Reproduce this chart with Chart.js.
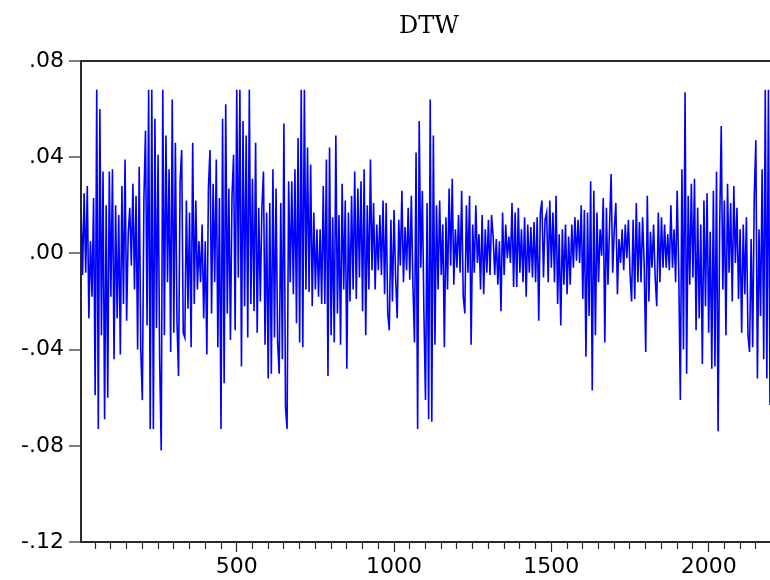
<!DOCTYPE html>
<html lang="en">
  <head>
    <meta charset="UTF-8">
    <title>DTW</title>
    <script src="https://cdn.jsdelivr.net/npm/chart.js"></script>
    <style>
      body { margin: 0; background: #fff; }
      canvas { display: block; }
    </style>
  </head>
  <body>
  <canvas id="chart" width="770" height="580"></canvas>
    <script>
    const dtwPart1 = [20,-9,25,-8,28,-27,5,-18,23,-59,68,-73,60,-34,34,-69,20,-60,34,-18,
      35,-44,20,-27,16,-42,28,-21,39,-28,8,19,-5,29,-15,24,-40,36,-40,-61,
      23,51,-30,68,-73,68,-73,56,-31,41,-44,-82,68,-34,49,-12,35,-41,64,-33,
      46,-28,-51,30,43,-33,-35,22,-23,17,-39,46,-21];
    const dtwPart2 = [22,-15,5,-12,12,-27,5,-42,27,43,-25,29,-12,39,-39,23,-73,56,-54,62,
      -25,27,-36,24,41,-32,68,-10,68,-47,55,-22,49,-35,68,-21,31,-24,46,-33,
      19,-20,19,34,-38,17,-52,21,-50,35,-35,27,-37,-50,21,-44,54,-64,-73,30,
      -12,30,-17,35,-29,48,-37,68,-39,68,-15,44,-16,37,-22];
    const dtwPart3 = [17,-15,10,-18,10,-21,28,-21,39,-51,44,-34,15,-37,49,-25,16,-38,29,-15,
      22,-48,17,-20,24,-15,34,-19,27,-10,30,-24,35,-34,20,-15,39,-7,21,-15,
      12,-7,16,-9,22,-17,21,-25,-32,14,-20,18,-10,-27,14,-5,26,-12,11,-7,
      19,-11,24,-13,-37,42,-73,55,-6,26,-25,-61,21,-69];
    const dtwPart4 = [64,-70,49,-38,20,-15,22,-9,12,-39,15,-15,27,-5,31,-13,10,-6,16,-8,
      26,-18,-25,20,-8,24,-38,12,-8,20,-4,8,-15,16,-17,10,-8,14,-9,16,
      7,-9,6,-13,5,-24,17,-9,12,-2,7,-4,21,-14,17,-14,19,-8,10,-12,
      15,-18,12,-8,11,-10,13,-12,15,-28,17,22,-10,14];
    const dtwPart5 = [17,-12,22,-6,17,-12,24,-21,8,-30,10,-13,12,-17,7,-13,12,-6,15,-3,
      14,-4,20,-19,18,-43,17,-26,30,-57,26,-34,17,-12,10,-1,23,-37,19,-13,
      11,33,-8,10,21,-17,6,-4,10,-7,12,-2,14,-8,-20,14,-19,21,-12,13,
      -12,15,-4,-41,24,-20,9,-6,12,-10,-22,17,-12,15,-6];
    const dtwPart6 = [12,-6,8,-7,20,-6,10,-12,26,-8,-61,35,-40,67,-50,24,-13,29,-10,31,
      -32,19,-27,12,-46,22,-22,25,-33,9,-48,26,-47,34,-74,11,53,-15,22,-34,
      29,-8,21,-20,28,-4,19,-19,10,-33,12,-17,15,-34,-41,6,-39,24,47,-52,
      10,-26,35,-44,68,-52,68,-63];

    const firstObs = 5;
    const obsStep = 5;
    const xTickLabels = [500, 1000, 1500, 2000];
    const yTickLabels = ['-.12', '-.08', '-.04', '.00', '.04', '.08'];
    const titleText = 'DTW';

    const dtw = [].concat(dtwPart1, dtwPart2, dtwPart3, dtwPart4, dtwPart5, dtwPart6);
    const points = dtw.map((v, i) => ({ x: firstObs + i * obsStep, y: v }));

    const axisColor = '#2a2a2a';

    const titlePlugin = {
      id: 'dtwTitle',
      afterDraw(chart) {
        const c = chart.ctx;
        c.save();
        c.font = '24px "DejaVu Serif"';
        c.fillStyle = '#000';
        c.textAlign = 'center';
        c.textBaseline = 'middle';
        c.fillText(titleText, 429, 27);
        c.restore();
      }
    };

    const ctx = document.getElementById('chart').getContext('2d');
    new Chart(ctx, {
      type: 'line',
      data: {
        datasets: [{
          label: titleText,
          data: points,
          borderColor: '#0000ff',
          borderWidth: 1.6,
          pointRadius: 0,
          tension: 0,
          fill: false
        }]
      },
      options: {
        responsive: false,
        animation: false,
        layout: { padding: { top: 61, left: 0, right: 0, bottom: 0 } },
        plugins: {
          legend: { display: false },
          title: { display: false },
          tooltip: { enabled: false }
        },
        scales: {
          x: {
            type: 'linear',
            min: 5,
            max: 2195,
            afterFit(scale) { scale.height = 38; },
            border: { display: true, color: axisColor, width: 2 },
            grid: {
              drawOnChartArea: false,
              drawTicks: true,
              tickLength: 10,
              tickColor: axisColor,
              tickWidth: 1.2,
              tickBorderDash: (c) => xTickLabels.includes(c.tick.value) ? [] : [6, 30]
            },
            ticks: {
              stepSize: 50,
              includeBounds: false,
              autoSkip: false,
              maxRotation: 0,
              minRotation: 0,
              padding: 2,
              color: '#000',
              font: { family: 'DejaVu Sans', size: 22 },
              callback: (value) => xTickLabels.includes(value) ? String(value) : ''
            }
          },
          y: {
            min: -120,
            max: 80,
            afterFit(scale) { scale.width = 81; },
            border: { display: true, color: axisColor, width: 2 },
            grid: {
              drawOnChartArea: true,
              color: (c) => c.tick && c.tick.value === 80 ? axisColor : 'rgba(0,0,0,0)',
              lineWidth: 2,
              drawTicks: true,
              tickLength: 12,
              tickColor: axisColor,
              tickWidth: 1.2
            },
            ticks: {
              stepSize: 40,
              padding: 5,
              color: '#000',
              font: { family: 'DejaVu Sans', size: 22 },
              callback: (value, index) => yTickLabels[index]
            }
          }
        }
      },
      plugins: [titlePlugin]
    });
    </script>
  </body>
</html>
